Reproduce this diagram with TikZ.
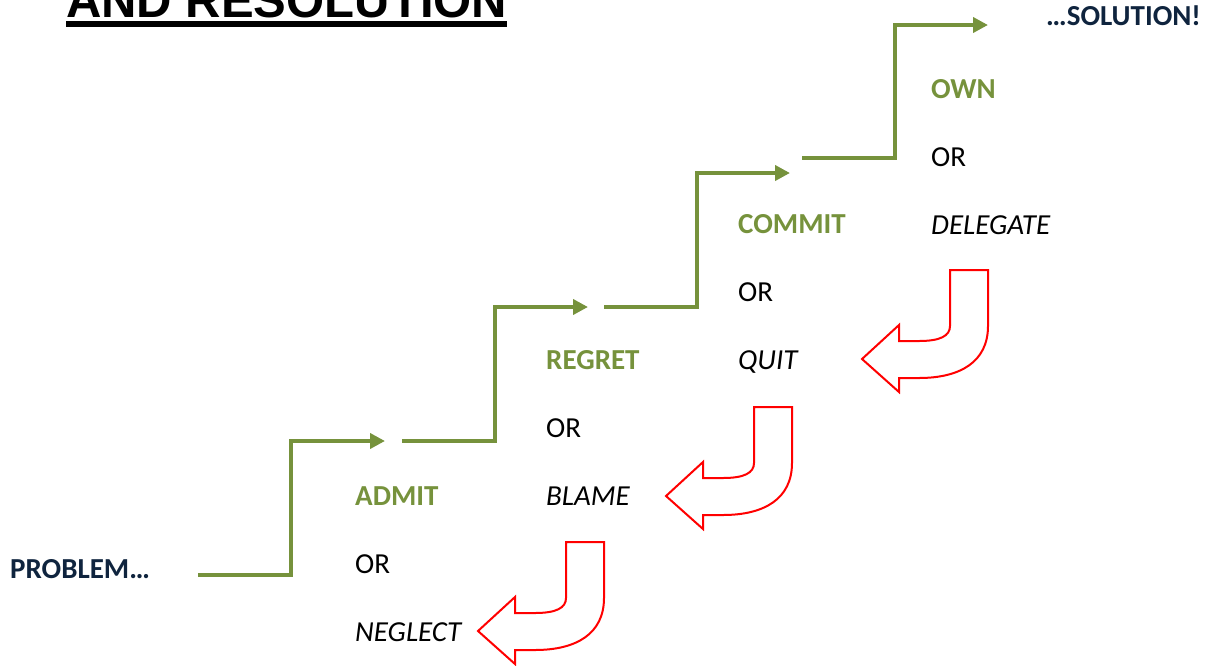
\documentclass[tikz,border=0pt]{standalone}
\usepackage{fontspec}
\setmainfont{Carlito}
\newfontfamily\titlefont{Liberation Sans}
\usetikzlibrary{arrows.meta}
\definecolor{stepgreen}{RGB}{118,146,60}
\definecolor{endnavy}{RGB}{15,36,62}
\definecolor{backred}{RGB}{255,0,0}
\newcommand{\lab}{\fontsize{29}{31}\selectfont}

\begin{document}
\begin{tikzpicture}[x=1pt,y=-1pt,
  every node/.style={inner sep=0pt,anchor=base west,font=\lab},
  good/.style={text=stepgreen,font=\lab\bfseries},
  bad/.style={font=\lab\itshape},
  ends/.style={text=endnavy,font=\lab\bfseries},
  stepline/.style={draw=stepgreen,line width=4pt,-{Triangle[length=15pt,width=15pt]}},
  uturn/.style={draw=backred,line width=2pt,fill=white}]
\useasboundingbox (0,0) rectangle (1207,665);
% title, cut at the top edge
\node[font=\titlefont\fontsize{49}{50}\selectfont\bfseries] (title) at (66,17) {AND RESOLUTION};
\draw[line width=6pt] ([yshift=-7pt]title.base west) -- ([yshift=-7pt]title.base east);
\node[ends] (problem) at (10,578) {PROBLEM…};
\node[ends] (solution) at (1046,25) {…SOLUTION!};
% the four columns
\foreach \c/\x/\y/\g/\b in {1/355/505/ADMIT/NEGLECT, 2/546/369/REGRET/BLAME, 3/738/233/COMMIT/QUIT, 4/931/98/OWN/DELEGATE}{
  \node[good] (good\c) at (\x,\y) {\g};
  \node (or\c) at (\x,\y+68) {OR};
  \node[bad] (bad\c) at (\x,\y+136) {\b};}
% steps up
\foreach \n/\ax/\ay/\bx/\by in {1/198/575/385/441, 2/402/441/588/307, 3/604/307/790/173, 4/802/158/988/25}{
  \coordinate (start\n) at (\ax,\ay);
  \coordinate (end\n) at (\bx,\by);
  \draw[stepline] (start\n) -- ++(93,0) |- (end\n);}
% falling back
\foreach \ux/\uy in {566/542, 754/407, 950/270}{
  \draw[uturn,shift={(\ux,\uy)}] (0,0) -- (38,0) -- (38,56) .. controls (38,92) and (10,108) .. (-31,108)
    -- (-51,108) -- (-51,122) -- (-88,89) -- (-51,55) -- (-51,71) -- (-31,71)
    .. controls (-10,71) and (0,66) .. (0,56) -- cycle;}
\end{tikzpicture}
\end{document}
